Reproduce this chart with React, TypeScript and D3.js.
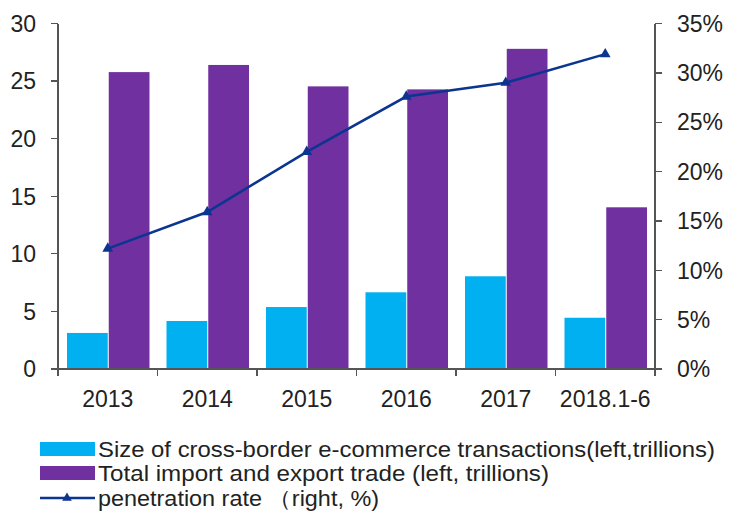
import * as d3 from 'd3';
import { useEffect, useRef } from 'react';

const categories = ['2013', '2014', '2015', '2016', '2017', '2018.1-6'];
const crossBorder = [3.13, 4.17, 5.38, 6.66, 8.05, 4.45];
const totalTrade = [25.78, 26.4, 24.54, 24.28, 27.8, 14.04];
const penetration = [12.2, 15.9, 22.0, 27.6, 29.0, 31.9];
const leftTicks = [0, 5, 10, 15, 20, 25, 30];
const rightTicks = [0, 5, 10, 15, 20, 25, 30, 35];
const legendLabels = [
    'Size of cross-border e-commerce transactions(left,trillions)',
    'Total import and export trade (left, trillions)',
    'penetration rate （right, %)',
];

const CYAN = '#00b0f0';
const PURPLE = '#7030a0';
const LINE = '#0b3590';
const AXIS = '#555555';
const FONT = '"Liberation Sans", Arial, sans-serif';

const W = 729;
const H = 512;

const App = () => {
    const svgRef = useRef<SVGSVGElement | null>(null);

    useEffect(() => {
        if (!svgRef.current) return;
        const svg = d3.select(svgRef.current);
        svg.selectAll('*').remove();

        const left = 58;
        const right = 655;
        const top = 23.5;
        const bottom = 369;

        const x = d3.scaleBand().domain(categories).range([left, right]);
        const yL = d3.scaleLinear().domain([0, 30]).range([bottom, top]);
        const yR = d3.scaleLinear().domain([0, 35]).range([bottom, top]);

        const pad = 9;
        const barW = (x.bandwidth() - 2 * pad) / 2;

        // bars
        svg.append('g')
            .selectAll('rect')
            .data(crossBorder)
            .join('rect')
            .attr('x', (_, i) => x(categories[i])! + pad)
            .attr('y', (d) => yL(d))
            .attr('width', barW)
            .attr('height', (d) => yL(0) - yL(d))
            .attr('fill', CYAN);

        svg.append('g')
            .selectAll('rect')
            .data(totalTrade)
            .join('rect')
            .attr('x', (_, i) => x(categories[i])! + pad + barW + 1)
            .attr('y', (d) => yL(d))
            .attr('width', barW)
            .attr('height', (d) => yL(0) - yL(d))
            .attr('fill', PURPLE);

        // axes
        const axisG = svg.append('g').attr('stroke', AXIS).attr('stroke-width', 1.3).attr('shape-rendering', 'crispEdges');
        axisG.append('line').attr('x1', left).attr('x2', left).attr('y1', top).attr('y2', bottom);
        axisG.append('line').attr('x1', right).attr('x2', right).attr('y1', top).attr('y2', bottom);
        axisG.append('line').attr('x1', left).attr('x2', right).attr('y1', bottom).attr('y2', bottom);

        axisG.selectAll('.lt')
            .data(leftTicks)
            .join('line')
            .attr('class', 'lt')
            .attr('x1', left - 7)
            .attr('x2', left)
            .attr('y1', (d) => yL(d))
            .attr('y2', (d) => yL(d));

        axisG.selectAll('.rt')
            .data(rightTicks)
            .join('line')
            .attr('class', 'rt')
            .attr('x1', right)
            .attr('x2', right + 7)
            .attr('y1', (d) => yR(d))
            .attr('y2', (d) => yR(d));

        const bTicks = categories.map((c) => x(c)!).concat([right]);
        axisG.selectAll('.bt')
            .data(bTicks)
            .join('line')
            .attr('class', 'bt')
            .attr('x1', (d) => d)
            .attr('x2', (d) => d)
            .attr('y1', bottom)
            .attr('y2', bottom + 7);

        const textG = svg.append('g').style('font-family', FONT).style('font-size', '23px').attr('fill', '#222');

        textG.selectAll('.ll')
            .data(leftTicks)
            .join('text')
            .attr('class', 'll')
            .attr('x', 36)
            .attr('y', (d) => yL(d))
            .attr('dy', '0.36em')
            .attr('text-anchor', 'end')
            .text((d) => d);

        textG.selectAll('.rl')
            .data(rightTicks)
            .join('text')
            .attr('class', 'rl')
            .attr('x', 677)
            .attr('y', (d) => yR(d))
            .attr('dy', '0.36em')
            .text((d) => `${d}%`);

        textG.selectAll('.xl')
            .data(categories)
            .join('text')
            .attr('class', 'xl')
            .attr('x', (d) => x(d)! + x.bandwidth() / 2)
            .attr('y', 407)
            .attr('text-anchor', 'middle')
            .text((d) => d);

        // line
        const line = d3
            .line<number>()
            .x((_, i) => x(categories[i])! + x.bandwidth() / 2)
            .y((d) => yR(d));

        svg.append('path')
            .datum(penetration)
            .attr('d', line)
            .attr('fill', 'none')
            .attr('stroke', LINE)
            .attr('stroke-width', 2.5);

        const tri = d3.symbol(d3.symbolTriangle, 50);
        svg.append('g')
            .selectAll('path')
            .data(penetration)
            .join('path')
            .attr('d', tri)
            .attr('transform', (d, i) => `translate(${x(categories[i])! + x.bandwidth() / 2},${yR(d)})`)
            .attr('fill', LINE);

        // legend
        const lg = svg.append('g');
        const rows = [449, 473, 498];
        lg.append('rect').attr('x', 40).attr('y', rows[0] - 7).attr('width', 55).attr('height', 14).attr('fill', CYAN);
        lg.append('rect').attr('x', 40).attr('y', rows[1] - 7).attr('width', 55).attr('height', 14).attr('fill', PURPLE);
        lg.append('line')
            .attr('x1', 40)
            .attr('x2', 95)
            .attr('y1', rows[2])
            .attr('y2', rows[2])
            .attr('stroke', LINE)
            .attr('stroke-width', 2.5);
        lg.append('path').attr('d', d3.symbol(d3.symbolTriangle, 40)).attr('transform', `translate(67,${rows[2]})`).attr('fill', LINE);

        const lengths = [617, 451, 281];
        lg.selectAll('text')
            .data(legendLabels)
            .join('text')
            .attr('x', 98)
            .attr('y', (_, i) => rows[i])
            .attr('dy', '0.36em')
            .attr('textLength', (_, i) => lengths[i])
            .attr('lengthAdjust', 'spacingAndGlyphs')
            .style('font-family', FONT)
            .style('font-size', '22px')
            .attr('fill', '#222')
            .text((d) => d);
    }, []);

    return <svg ref={svgRef} width={W} height={H} style={{ position: 'absolute', left: 0, top: 0 }} />;
};

export default App;
